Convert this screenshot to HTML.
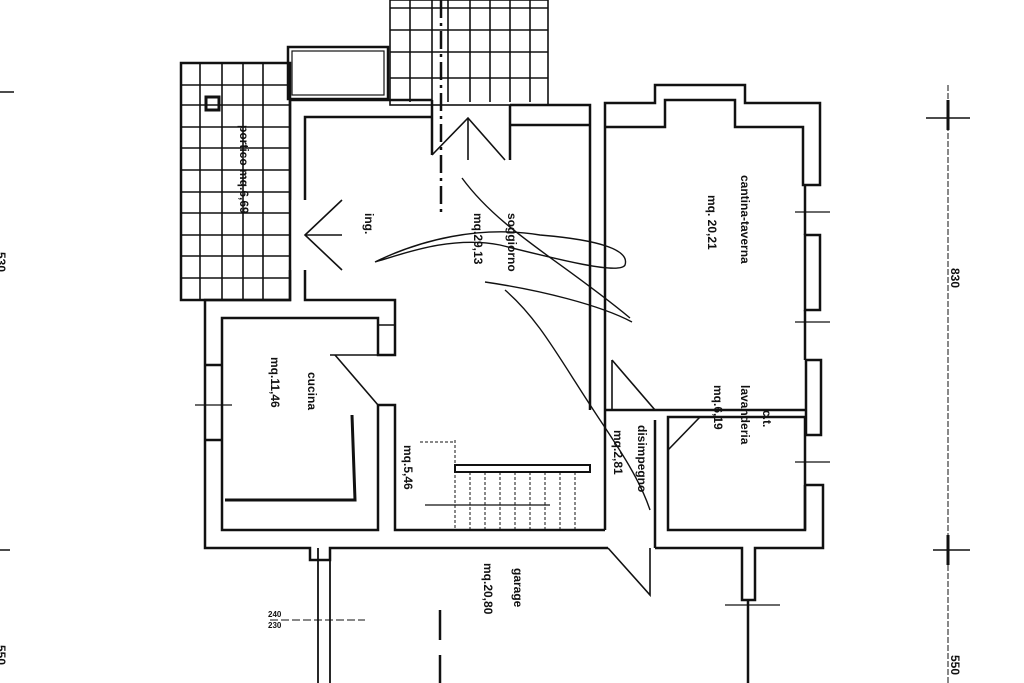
<!DOCTYPE html>
<html><head><meta charset="utf-8"><style>
html,body{margin:0;padding:0;background:#fff;}
svg{display:block;}
text{font-family:"Liberation Sans",sans-serif;font-weight:bold;fill:#111;}
</style></head><body>
<svg width="1024" height="683" viewBox="0 0 1024 683" xmlns="http://www.w3.org/2000/svg">
<rect width="1024" height="683" fill="#fff"/>
<g stroke="#111" fill="none" stroke-width="2.5">
<!-- portico tiles -->
<rect x="181" y="63" width="109" height="237"/>
<g stroke-width="1.6">
<line x1="200" y1="63" x2="200" y2="300"/><line x1="222" y1="63" x2="222" y2="300"/>
<line x1="243" y1="63" x2="243" y2="300"/><line x1="263" y1="63" x2="263" y2="300"/>
<line x1="181" y1="85" x2="290" y2="85"/><line x1="181" y1="105" x2="290" y2="105"/>
<line x1="181" y1="127" x2="290" y2="127"/><line x1="181" y1="148" x2="290" y2="148"/>
<line x1="181" y1="170" x2="290" y2="170"/><line x1="181" y1="192" x2="290" y2="192"/>
<line x1="181" y1="213" x2="290" y2="213"/><line x1="181" y1="235" x2="290" y2="235"/>
<line x1="181" y1="256" x2="290" y2="256"/><line x1="181" y1="278" x2="290" y2="278"/>
</g>
<rect x="206" y="97" width="13" height="13" stroke-width="3"/>
<!-- top tiles -->
<g stroke-width="1.6">
<rect x="390" y="0" width="158" height="105"/>
<line x1="410" y1="0" x2="410" y2="102"/><line x1="432" y1="0" x2="432" y2="102"/>
<line x1="448" y1="0" x2="448" y2="102"/><line x1="470" y1="0" x2="470" y2="102"/>
<line x1="490" y1="0" x2="490" y2="102"/><line x1="510" y1="0" x2="510" y2="102"/>
<line x1="530" y1="0" x2="530" y2="102"/>
<line x1="390" y1="8" x2="548" y2="8"/><line x1="390" y1="30" x2="548" y2="30"/>
<line x1="390" y1="52" x2="548" y2="52"/><line x1="390" y1="78" x2="548" y2="78"/>
</g>
<line x1="441" y1="0" x2="441" y2="215" stroke-width="2.5" stroke-dasharray="18,5,3,5"/>
<!-- planter -->
<rect x="288" y="47" width="100" height="52"/>
<rect x="292" y="51" width="92" height="44" stroke-width="1.2"/>
<!-- outer walls -->
<polyline points="290,200 290,100 432,100"/>
<polyline points="305,200 305,117 432,117"/>
<polyline points="510,105 590,105 590,410"/>
<polyline points="510,125 590,125"/>
<polyline points="605,410 605,103 655,103 655,85 745,85 745,103 820,103 820,185 803,185 803,127 735,127 735,100 665,100 665,127 605,127"/>
<line x1="432" y1="100" x2="432" y2="155"/><line x1="510" y1="105" x2="510" y2="160"/>
<!-- right wall segments -->
<rect x="805" y="235" width="15" height="75"/>
<rect x="806" y="360" width="15" height="75"/>
<polyline points="806,485 823,485 823,548 755,548 755,600 742,600 742,548 655,548"/>
<line x1="805" y1="417" x2="805" y2="530"/>
<line x1="805" y1="310" x2="805" y2="360"/>
<line x1="805" y1="185" x2="805" y2="235"/>
<!-- cantina bottom, lavanderia -->
<line x1="605" y1="410" x2="805" y2="410"/>
<polyline points="668,460 668,417 805,417"/>
<polyline points="668,460 668,530 805,530 805,485"/>
<polyline points="655,420 655,548"/>
<line x1="605" y1="410" x2="605" y2="530"/>
<!-- left part -->
<polyline points="290,270 290,300 205,300 205,548 310,548 310,560 330,560 330,548 608,548"/>
<polyline points="305,270 305,300 395,300 395,355 378,355 378,318 222,318 222,530 378,530 378,405 395,405 395,530 605,530"/>
<rect x="378" y="325" width="17" height="30" stroke-width="1.5"/>
<line x1="205" y1="365" x2="222" y2="365"/><line x1="205" y1="440" x2="222" y2="440"/>
<!-- garage walls -->
<line x1="318" y1="548" x2="318" y2="683" stroke-width="1.8"/>
<line x1="330" y1="548" x2="330" y2="683" stroke-width="1.8"/>
<line x1="748" y1="600" x2="748" y2="683" stroke-width="2.5"/>
<!-- doors -->
<g stroke-width="1.6">
<polyline points="432,155 468,118 505,160"/><line x1="468" y1="118" x2="468" y2="160"/>
<polyline points="342,200 305,235 342,270"/><line x1="305" y1="235" x2="342" y2="235"/>
<polyline points="335,355 378,405"/><line x1="330" y1="355" x2="378" y2="355"/>
<polyline points="612,360 655,410"/><line x1="612" y1="360" x2="612" y2="410"/>
<polyline points="700,417 668,450"/>
<polyline points="608,548 650,595 650,548"/>
</g>
<!-- stairs -->
<rect x="455" y="465" width="135" height="7" stroke-width="2"/>
<g stroke-width="1" stroke-dasharray="3,2">
<line x1="470" y1="472" x2="470" y2="530"/><line x1="485" y1="472" x2="485" y2="530"/>
<line x1="500" y1="472" x2="500" y2="530"/><line x1="515" y1="472" x2="515" y2="530"/>
<line x1="530" y1="472" x2="530" y2="530"/><line x1="545" y1="472" x2="545" y2="530"/>
<line x1="560" y1="472" x2="560" y2="530"/><line x1="575" y1="472" x2="575" y2="530"/>
<line x1="455" y1="440" x2="455" y2="530"/><line x1="420" y1="442" x2="455" y2="442"/>
</g>
<line x1="425" y1="505" x2="550" y2="505" stroke-width="1.2"/>
<!-- kitchen counter -->
<polyline points="225,500 355,500 352,415" stroke-width="3"/>
<!-- scribbles -->
<g stroke-width="1.4">
<path d="M375,262 C420,240 480,225 540,235 C600,240 630,250 625,265 C620,275 560,260 500,245 C450,235 400,255 375,262"/>
<path d="M462,178 C500,230 560,260 630,318"/>
<path d="M485,282 C540,290 600,305 632,322"/>
<path d="M505,290 C540,320 560,360 600,420 C620,450 640,480 650,510"/>
</g>
<!-- dimension lines -->
<line x1="948" y1="85" x2="948" y2="683" stroke-width="1" stroke-dasharray="6,2"/>
<line x1="926" y1="118" x2="970" y2="118" stroke-width="1.5"/>
<line x1="933" y1="550" x2="970" y2="550" stroke-width="1.5"/>
<line x1="948" y1="100" x2="948" y2="130" stroke-width="3"/>
<line x1="948" y1="535" x2="948" y2="565" stroke-width="3"/>
<line x1="0" y1="92" x2="14" y2="92" stroke-width="1.5"/>
<line x1="0" y1="550" x2="10" y2="550" stroke-width="1.5"/>
<line x1="195" y1="405" x2="232" y2="405" stroke-width="1.2"/>
<line x1="795" y1="212" x2="830" y2="212" stroke-width="1.2"/>
<line x1="795" y1="322" x2="830" y2="322" stroke-width="1.2"/>
<line x1="795" y1="462" x2="830" y2="462" stroke-width="1.2"/>
<line x1="725" y1="605" x2="780" y2="605" stroke-width="1.2"/>
<line x1="270" y1="620" x2="365" y2="620" stroke-width="1" stroke-dasharray="8,3"/>
<line x1="440" y1="610" x2="440" y2="640" stroke-width="2.5"/>
<line x1="440" y1="655" x2="440" y2="683" stroke-width="2.5"/>
</g>
<g font-size="12">
<text transform="translate(240,125) rotate(90)">portico  mq.6,69</text>
<text transform="translate(365,213) rotate(90)">ing.</text>
<text transform="translate(508,213) rotate(90)">soggiorno</text>
<text transform="translate(474,213) rotate(90)">mq.29,13</text>
<text transform="translate(308,372) rotate(90)">cucina</text>
<text transform="translate(271,357) rotate(90)">mq.11,46</text>
<text transform="translate(404,445) rotate(90)">mq.5,46</text>
<text transform="translate(638,425) rotate(90)">disimpegno</text>
<text transform="translate(614,430) rotate(90)">mq.2,81</text>
<text transform="translate(741,175) rotate(90)">cantina-taverna</text>
<text transform="translate(708,195) rotate(90)">mq. 20,21</text>
<text transform="translate(763,410) rotate(90)">c.t.</text>
<text transform="translate(741,385) rotate(90)">lavanderia</text>
<text transform="translate(714,385) rotate(90)">mq.6,19</text>
<text transform="translate(514,568) rotate(90)">garage</text>
<text transform="translate(484,563) rotate(90)">mq.20,80</text>
<text transform="translate(951,268) rotate(90)">830</text>
<text transform="translate(951,655) rotate(90)">550</text>
<text transform="translate(-3,252) rotate(90)">530</text>
<text transform="translate(-3,645) rotate(90)">550</text>
</g>
<text x="268" y="617" font-size="8">240</text>
<text x="268" y="628" font-size="8">230</text>
</svg>
</body></html>
